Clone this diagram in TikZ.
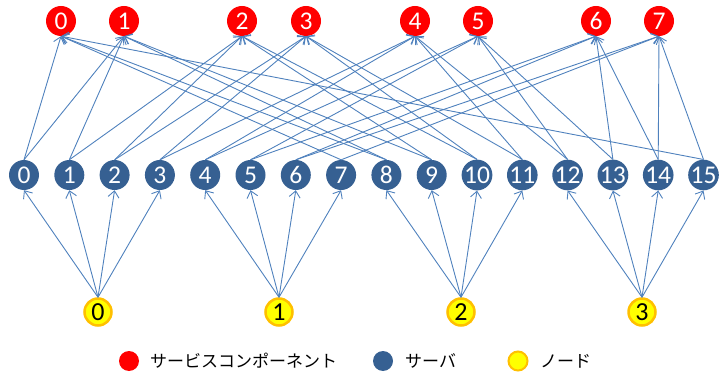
\documentclass[tikz,border=0pt]{standalone}
\usepackage{fontspec}
\setmainfont{Carlito}
\newfontfamily\jpfont{Noto Sans CJK JP}
\usetikzlibrary{arrows.meta}
\definecolor{compred}{RGB}{255,0,0}
\definecolor{srvblue}{RGB}{54,96,146}
\definecolor{edgeblue}{RGB}{79,129,189}
\definecolor{ylw}{RGB}{255,255,0}
\definecolor{orng}{RGB}{255,192,0}
\begin{document}
\begin{tikzpicture}[x=1pt,y=-1pt,
  compnode/.style={circle,fill=compred,text=white,minimum size=30pt,inner sep=0pt,font=\fontsize{25.5}{25.5}\selectfont},
  srvnode/.style={circle,fill=srvblue,text=white,minimum size=30pt,inner sep=0pt,font=\fontsize{25.5}{25.5}\selectfont},
  ynode/.style={circle,fill=ylw,draw=orng,line width=2.5pt,minimum size=27pt,inner sep=0pt,font=\fontsize{26}{26}\selectfont},
  link/.style={draw=edgeblue,line width=0.9pt,-{Straight Barb[length=6.5pt,width=11pt,line width=0.9pt]}},
  legdot/.style={circle,minimum size=20pt,inner sep=0pt},
  legtext/.style={anchor=west,inner sep=0pt,font=\jpfont\fontsize{17}{17}\selectfont}]
\useasboundingbox (0,0) rectangle (720,379);
% components
\foreach \i/\x in {0/61,1/124,2/242,3/306,4/415,5/478,6/596,7/659}
  \node[compnode] (c\i) at (\x,21) {\i};
% servers
\foreach \i in {0,...,15}
  \node[srvnode] (s\i) at ({24+45.3*\i},175) {\i};
% nodes
\foreach \i/\x in {0/98,1/279,2/461,3/642}
  \node[ynode] (y\i) at (\x,312) {\i};
% node -> server
\foreach \j in {0,...,3}
  \foreach \k in {0,...,3}{
    \pgfmathtruncatemacro{\s}{4*\j+\k}
    \draw[link] (y\j.north) -- (s\s.south);
  }
% server -> component
\foreach \i in {0,...,15}{
  \pgfmathtruncatemacro{\a}{mod(\i,8)}
  \pgfmathtruncatemacro{\b}{mod(\i+1,8)}
  \draw[link] (s\i.north) -- (c\a.south);
  \draw[link] (s\i.north) -- (c\b.south);
}
% legend
\node[legdot,fill=compred] (l1) at (129,361) {};
\node[legtext] (t1) at (150,361) {サービスコンポーネント};
\node[legdot,fill=srvblue] (l2) at (383,361) {};
\node[legtext] (t2) at (405,361) {サーバ};
\node[legdot,fill=ylw,draw=orng,line width=2pt,minimum size=19pt] (l3) at (518,361) {};
\node[legtext] (t3) at (540,361) {ノード};
\end{tikzpicture}
\end{document}
